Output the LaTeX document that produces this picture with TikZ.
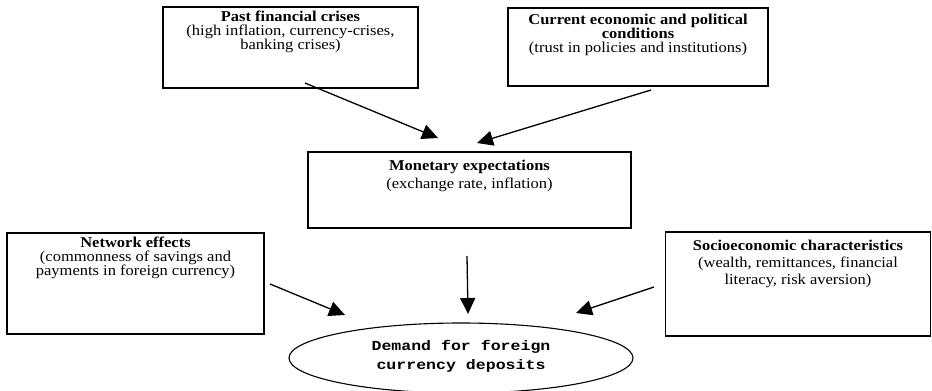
\documentclass[tikz,border=0pt]{standalone}
\usepackage{fontspec}
\setmainfont{Liberation Serif}[FakeStretch=1.1]
\newfontfamily\demandfont{Liberation Mono}[FakeStretch=1.2]
\usetikzlibrary{arrows.meta}
\begin{document}
\begin{tikzpicture}[x=1pt,y=-1pt,
  box/.style={draw,line width=1.1pt,rectangle,inner sep=0pt},
  boxtext/.style={align=center,inner sep=0pt,font=\fontsize{15}{14}\selectfont},
  conn/.style={line width=1.3pt,-{Triangle[length=16pt,width=15pt]}}]
\useasboundingbox (0,0) rectangle (932,391);
% boxes
\node[box,minimum width=255pt,minimum height=81pt,
  label={[boxtext,anchor=north,yshift=-4pt]north:{\textbf{Past financial crises}\\(high inflation, currency-crises,\\banking crises)}}]
  (past) at (290.5,47.5) {};
\node[box,minimum width=260pt,minimum height=78pt,
  label={[boxtext,anchor=north,yshift=-6pt]north:{\textbf{Current economic and political}\\\textbf{conditions}\\(trust in policies and institutions)}}]
  (curr) at (638,47) {};
\node[box,minimum width=323pt,minimum height=76pt,
  label={[boxtext,anchor=north,yshift=-8pt]north:{\textbf{Monetary expectations}\\[4pt](exchange rate, inflation)}}]
  (mon) at (469.5,190) {};
\node[box,minimum width=257pt,minimum height=101pt,
  label={[boxtext,anchor=north,yshift=-4pt]north:{\textbf{Network effects}\\(commonness of savings and\\payments in foreign currency)}}]
  (net) at (135.5,283.5) {};
\node[box,minimum width=265pt,minimum height=104pt,
  label={[boxtext,anchor=north,yshift=-8pt]north:{\textbf{Socioeconomic characteristics}\\[3pt](wealth, remittances, financial\\[3pt]literacy, risk aversion)}}]
  (socio) at (798,284) {};
% ellipse
\draw[line width=1.1pt] (461,358) ellipse [x radius=172, y radius=35];
\node[align=center,inner sep=0pt,font=\demandfont\bfseries\fontsize{13.8}{19}\selectfont]
  (dem) at (461,356) {Demand for foreign\\currency deposits};
% connector end points
\coordinate (a1s) at (305,83);  \coordinate (a1e) at (438,138);
\coordinate (a2s) at (651,90);  \coordinate (a2e) at (477,143);
\coordinate (a3s) at (270,284); \coordinate (a3e) at (345,315);
\coordinate (a4s) at (467,256); \coordinate (a4e) at (468,314);
\coordinate (a5s) at (654,287); \coordinate (a5e) at (576,313);
\draw[conn] (a1s) -- (a1e);
\draw[conn] (a2s) -- (a2e);
\draw[conn] (a3s) -- (a3e);
\draw[conn] (a4s) -- (a4e);
\draw[conn] (a5s) -- (a5e);
\end{tikzpicture}
\end{document}
